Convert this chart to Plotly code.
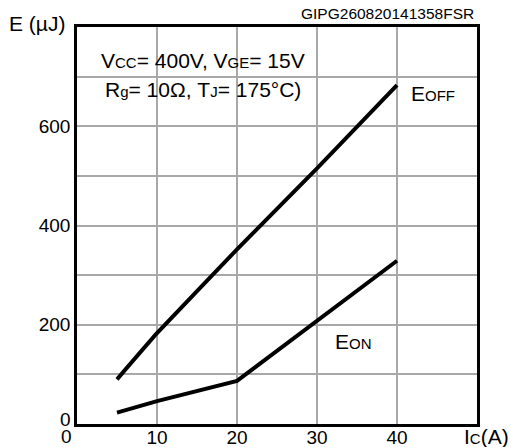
import plotly.graph_objects as go

ic = [5, 10, 20, 30, 40]
e_off = [90, 183, 352, 515, 683]
e_on = [23, 46, 87, 208, 329]

x_ticks = [10, 20, 30, 40]
y_grid = [100, 200, 300, 400, 500, 600, 700]
y_labels = ["", "200", "", "400", "", "600", ""]

FONT = "Liberation Sans, Arial, sans-serif"
L, R, T, B = 77, 34, 27, 23
W, H = 511, 447
PW, PH = W - L - R, H - T - B

def px(x):
    return (x - L) / PW

def py(y):
    return (H - B - y) / PH

fig = go.Figure()
fig.add_trace(go.Scatter(x=ic, y=e_off, mode="lines",
                         line=dict(color="black", width=4, shape="spline", smoothing=0.3),
                         hoverinfo="skip", showlegend=False))
fig.add_trace(go.Scatter(x=ic, y=e_on, mode="lines",
                         line=dict(color="black", width=4),
                         hoverinfo="skip", showlegend=False))

sm = "<span style='font-size:15px'>%s</span>"
ann = [
    dict(x=px(65), y=py(419), text="0", size=19),
    dict(x=px(66), y=py(436), text="0", size=19),
    dict(x=px(487), y=py(436), text="I" + sm % "C" + "(A)"),
    dict(x=px(37), y=py(24), text="E (µJ)"),
    dict(x=px(476), y=py(13), text="GIPG260820141358FSR", xanchor="right", size=15.5),
    dict(x=px(203), y=py(60), text="V" + sm % "CC" + "= 400V, V" + sm % "GE" + "= 15V"),
    dict(x=px(203), y=py(89), text="R" + sm % "g" + "= 10Ω, T" + sm % "J" + "= 175°C)"),
    dict(x=px(433), y=py(94), text="E" + sm % "OFF"),
    dict(x=px(353), y=py(341), text="E" + sm % "ON"),
]
for a in ann:
    fig.add_annotation(x=a["x"], y=a["y"], xref="paper", yref="paper", text=a["text"],
                       showarrow=False, xanchor=a.get("xanchor", "center"), yanchor="middle",
                       font=dict(family=FONT, size=a.get("size", 21), color="black"))

fig.add_shape(type="rect", xref="x", yref="y", x0=1.6, x1=29.8, y0=650, y1=764,
              fillcolor="white", line=dict(width=0), layer="below")

fig.update_layout(
    width=W, height=H, margin=dict(l=L, r=R, t=T, b=B, autoexpand=False),
    paper_bgcolor="white", plot_bgcolor="white",
    font=dict(family=FONT, size=19, color="black"),
    xaxis=dict(range=[0, 50], tickvals=x_ticks, ticks="", showline=True, mirror=True,
               linecolor="black", linewidth=2.5, showgrid=True, gridcolor="#a8a8a8",
               gridwidth=1.5, zeroline=False, fixedrange=True, automargin=False,
               ticklabelstandoff=-6),
    yaxis=dict(range=[0, 800], tickvals=y_grid, ticktext=y_labels, ticks="", showline=True,
               mirror=True, linecolor="black", linewidth=2.5, showgrid=True,
               gridcolor="#a8a8a8", gridwidth=1.5, zeroline=False, fixedrange=True,
               automargin=False),
)
fig.write_html("out.html", config={"displayModeBar": False},
               post_script="document.body.style.margin='0';document.body.style.overflow='hidden';")
